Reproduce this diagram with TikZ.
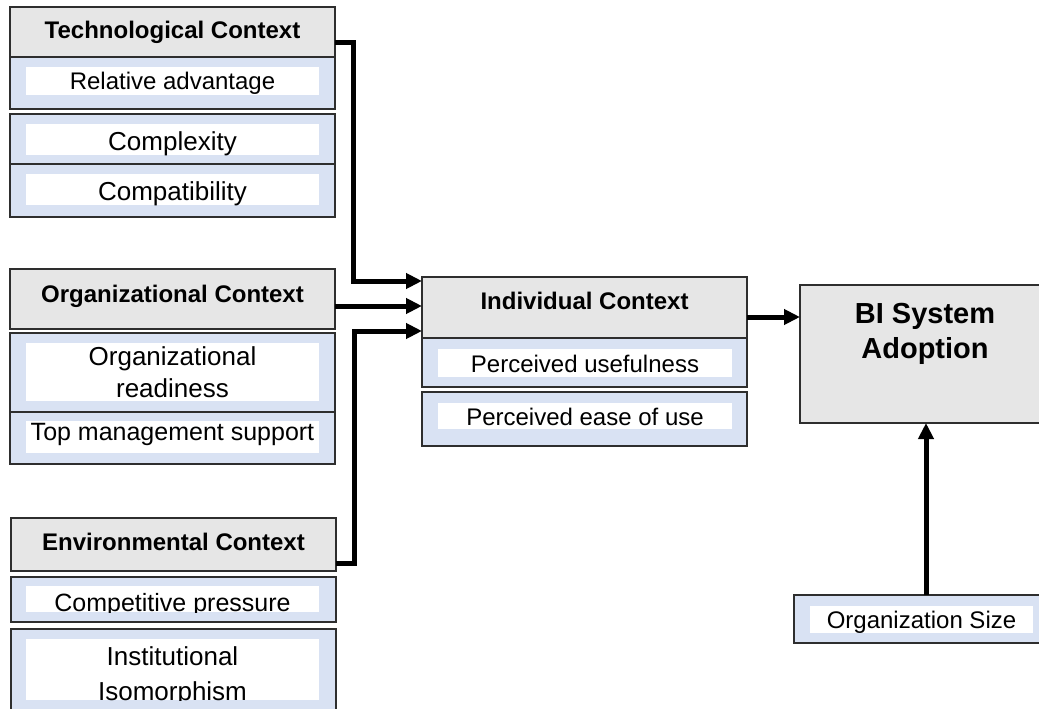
\documentclass[tikz,border=0pt]{standalone}
\usepackage{fontspec}
\setmainfont{Liberation Sans}
\usetikzlibrary{arrows.meta}
\definecolor{hdrgray}{HTML}{E6E6E6}
\definecolor{paleblue}{HTML}{D9E2F3}
\definecolor{linec}{HTML}{2E2E2E}
\begin{document}
\begin{tikzpicture}[x=1pt,y=-1pt,
  basebox/.style={draw=linec, line width=1.1pt, inner sep=0pt, outer sep=0pt, anchor=north west},
  hdrbox/.style={basebox, fill=hdrgray},
  subbox/.style={basebox, fill=paleblue},
  whitebox/.style={fill=white, inner sep=0pt, outer sep=0pt, anchor=north west},
  lbl/.style={inner sep=0pt, anchor=base, align=center, font=\fontsize{24}{32}\selectfont},
  lblbig/.style={lbl, font=\fontsize{26}{32}\selectfont},
  hlbl/.style={inner sep=0pt, anchor=base, font=\fontsize{24}{28}\selectfont\bfseries},
  conn/.style={line width=5pt, -{Triangle[length=16pt,width=15pt]}},
]
\clip (0,0) rectangle (1039,709);
\fill[white] (0,0) rectangle (1039,709);

% ---------- Technological ----------
\node[hdrbox, minimum width=325pt, minimum height=50pt] (techH) at (10,7) {};
\node[hlbl] (techT) at (172.5,39) {Technological Context};
\node[subbox, minimum width=325pt, minimum height=52pt] (relB) at (10,57) {};
\node[whitebox, minimum width=293pt, minimum height=28pt] (relW) at (26,67) {};
\node[lbl] (relT) at (172.5,89) {Relative advantage};
\node[subbox, minimum width=325pt, minimum height=50pt] (cplxB) at (10,114) {};
\node[whitebox, minimum width=293pt, minimum height=31pt] (cplxW) at (26,124) {};
\node[lblbig] (cplxT) at (172.5,150.5) {Complexity};
\node[subbox, minimum width=325pt, minimum height=53pt] (compB) at (10,164) {};
\node[whitebox, minimum width=293pt, minimum height=31pt] (compW) at (26,174) {};
\node[lblbig] (compT) at (172.5,200) {Compatibility};

% ---------- Organizational ----------
\node[hdrbox, minimum width=325pt, minimum height=60pt] (orgH) at (10,269) {};
\node[hlbl] (orgT) at (172.5,302) {Organizational Context};
\node[subbox, minimum width=325pt, minimum height=79pt] (readB) at (10,333) {};
\node[whitebox, minimum width=293pt, minimum height=58pt] (readW) at (26,343) {};
\node[lblbig] (readT) at (172.5,397) {Organizational\\readiness};
\node[subbox, minimum width=325pt, minimum height=52pt] (topB) at (10,412) {};
\node[whitebox, minimum width=293pt, minimum height=32pt] (topW) at (26,421) {};
\node[lbl, font=\fontsize{25}{30}\selectfont] (topT) at (172.5,440) {Top management support};

% ---------- Environmental ----------
\node[hdrbox, minimum width=325pt, minimum height=53pt] (envH) at (11,518) {};
\node[hlbl] (envT) at (173.5,550) {Environmental Context};
\node[subbox, minimum width=325pt, minimum height=45pt] (cpB) at (11,577) {};
\node[whitebox, minimum width=293pt, minimum height=26pt] (cpW) at (26,586) {};
\begin{scope}
  \clip (26,586) rectangle (319,612);
  \node[lbl, font=\fontsize{25}{30}\selectfont] (cpT) at (172.5,611) {Competitive pressure};
\end{scope}
\node[subbox, minimum width=325pt, minimum height=95pt] (isoB) at (11,629) {};
\node[whitebox, minimum width=293pt, minimum height=61pt] (isoW) at (26,639) {};
\begin{scope}
  \clip (26,639) rectangle (319,700);
  \node[lblbig, font=\fontsize{26}{35}\selectfont] (isoT) at (172.5,700) {Institutional\\Isomorphism};
\end{scope}

% ---------- Individual ----------
\node[hdrbox, minimum width=325pt, minimum height=61pt] (indH) at (422,277) {};
\node[hlbl] (indT) at (584.5,309) {Individual Context};
\node[subbox, minimum width=325pt, minimum height=49pt] (puB) at (422,338) {};
\node[whitebox, minimum width=294pt, minimum height=28pt] (puW) at (438,349) {};
\node[lbl] (puT) at (585,372) {Perceived usefulness};
\node[subbox, minimum width=325pt, minimum height=54pt] (peB) at (422,392) {};
\node[whitebox, minimum width=294pt, minimum height=26pt] (peW) at (438,403) {};
\node[lbl] (peT) at (585,425) {Perceived ease of use};

% ---------- BI System Adoption ----------
\node[hdrbox, minimum width=250pt, minimum height=138pt] (biB) at (800,285) {};
\node[inner sep=0pt, anchor=base, align=center, font=\fontsize{29}{35}\selectfont\bfseries] (biT) at (925,358) {BI System\\Adoption};

% ---------- Organization Size ----------
\node[subbox, minimum width=255pt, minimum height=48pt] (osB) at (794,595) {};
\node[whitebox, minimum width=223pt, minimum height=27pt] (osW) at (810,606) {};
\node[lbl] (osT) at (921.5,628) {Organization Size};

% ---------- Connectors ----------
\coordinate (t1) at (353,43);
\coordinate (t2) at (353,281);
\coordinate (e1) at (354,563);
\coordinate (e2) at (354,331);
\draw[conn] (techH.east |- t1) -- (t1) -- (t2) -- (indH.west |- t2);
\draw[conn] (orgH.east |- 0,306) -- (indH.west |- 0,306);
\draw[conn] (envH.east |- e1) -- (e1) -- (e2) -- (indH.west |- e2);
\draw[conn] (indH.east |- 0,317) -- (biB.west |- 0,317);
\draw[conn] (osB.north -| 926,0) -- (biB.south -| 926,0);
\end{tikzpicture}
\end{document}
